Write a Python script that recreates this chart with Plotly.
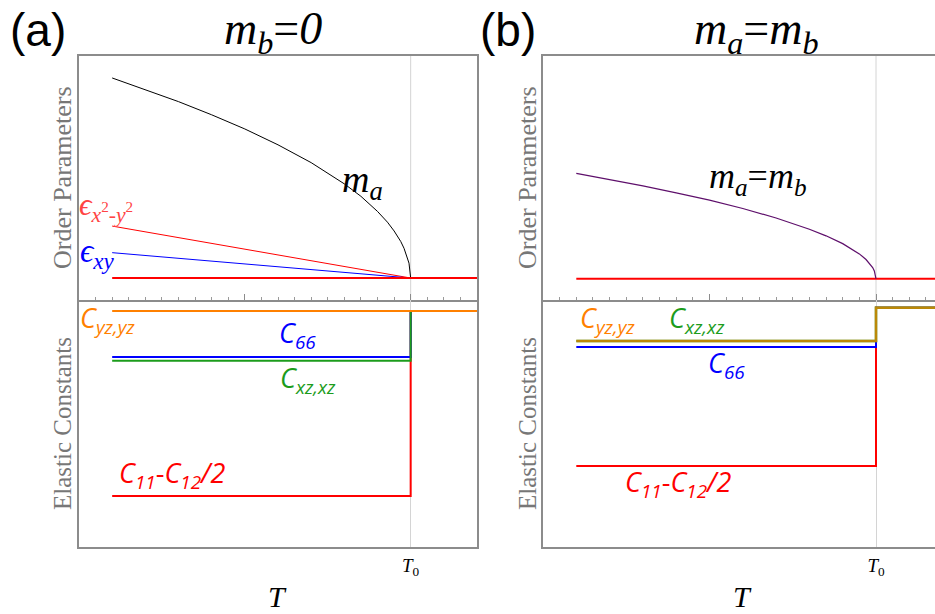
import plotly.graph_objects as go

W, H = 935, 614

# ---------------- data ----------------
T0 = 1.0
T_op = [0.1, 0.2, 0.3, 0.4, 0.5, 0.6, 0.7, 0.8, 0.85, 0.9, 0.93, 0.95, 0.97, 0.98, 0.99, 0.995, 1.0]
ma_a = [0.910, 0.863, 0.813, 0.759, 0.701, 0.636, 0.563, 0.476, 0.425, 0.363, 0.319, 0.283, 0.240, 0.212, 0.176, 0.151, 0.09]
mab_b = [0.519, 0.494, 0.468, 0.439, 0.409, 0.375, 0.336, 0.290, 0.263, 0.231, 0.207, 0.189, 0.166, 0.151, 0.133, 0.119, 0.087]

eps_T = [0.1, 1.0]
eps_x2y2 = [0.303, 0.09]
eps_xy = [0.194, 0.09]

base_T = [0.1, 1.2]
base_a = [0.09, 0.09]
base_b = [0.087, 0.087]

T_el = [0.1, 1.0, 1.0, 1.2]
cyz_a = [0.955, 0.955, 0.955, 0.955]
c66_a = [0.769, 0.769, 0.955, 0.955]
cxz_a = [0.754, 0.754, 0.955, 0.955]
c11_a = [0.206, 0.206, 0.955, 0.955]

cyz_b = [0.834, 0.834, 0.969, 0.969]
cxz_b = [0.834, 0.834, 0.969, 0.969]
c66_b = [0.810, 0.810, 0.969, 0.969]
c11_b = [0.328, 0.328, 0.969, 0.969]

# ---------------- styles ----------------
RED = "#ff0000"
BLUE = "#0000ff"
GREEN = "#1c9c1c"
ORANGE = "#ff8000"
PURPLE = "#5e0f6b"
FRAME = "#8c8c8c"
SERIF = "Liberation Serif"
SANS = "Open Sans"


def px(x):
    return x / W


def py(y):
    return 1 - y / H


fig = go.Figure()

xa = [px(79), px(477)]
xb = [px(543), 1.0]
y_top = [py(300), py(56)]
y_bot = [py(547), py(300)]


def line(x, y, color, width, xa_, ya_, opacity=1.0):
    fig.add_trace(go.Scatter(x=x, y=y, mode="lines", line=dict(color=color, width=width),
                             xaxis=xa_, yaxis=ya_, opacity=opacity, showlegend=False,
                             hoverinfo="skip"))


# panel (a) top
line(T_op, ma_a, "black", 1, "x", "y")
line(eps_T, eps_x2y2, RED, 1, "x", "y")
line(eps_T, eps_xy, BLUE, 1, "x", "y")
line(base_T, base_a, RED, 2, "x", "y")
# panel (a) bottom
line(T_el, c11_a, RED, 2, "x2", "y2")
line(T_el, c66_a, BLUE, 2, "x2", "y2")
line(T_el, cxz_a, GREEN, 2, "x2", "y2")
line(T_el, cyz_a, ORANGE, 2, "x2", "y2")
# panel (b) top
line(base_T, base_b, RED, 2, "x3", "y3")
line(T_op, mab_b, PURPLE, 1.2, "x3", "y3")
# panel (b) bottom
line(T_el, c11_b, RED, 2, "x4", "y4")
line(T_el, c66_b, BLUE, 2, "x4", "y4")
line(T_el, cxz_b, GREEN, 2.5, "x4", "y4")
line(T_el, cyz_b, ORANGE, 2.5, "x4", "y4", opacity=0.7)

rng_a = [0, 1.2]
rng_b = [0, (935 - 543) / 333]

top_x = dict(showline=True, linecolor=FRAME, linewidth=1.5, mirror=True, showgrid=False,
             zeroline=False, ticks="inside", tickcolor=FRAME, ticklen=6, tickwidth=1,
             tickmode="linear", tick0=0, dtick=0.5, showticklabels=False,
             minor=dict(ticks="inside", ticklen=3, tickcolor="#9a9a9a", tickwidth=1, dtick=0.05, tick0=0,
                        showgrid=False))
bot_x = dict(showline=True, linecolor=FRAME, linewidth=1.5, mirror=False, showgrid=True,
             gridcolor="#d4d4d4", gridwidth=1, zeroline=False, ticks="", tickmode="array",
             tickvals=[T0], ticktext=["<i>T</i><sub>0</sub>"],
             tickfont=dict(family=SERIF, size=19, color="black"))
y_common = dict(showline=True, linecolor=FRAME, linewidth=1.5, showgrid=False, zeroline=False,
                showticklabels=False, ticks="", range=[0, 1])

fig.update_layout(
    width=W, height=H, margin=dict(l=0, r=0, t=0, b=0),
    paper_bgcolor="white", plot_bgcolor="white",
    xaxis=dict(domain=xa, range=rng_a, anchor="y", **top_x),
    yaxis=dict(domain=y_top, anchor="x", mirror=True, **y_common),
    xaxis2=dict(domain=xa, range=rng_a, anchor="y2", **bot_x),
    yaxis2=dict(domain=y_bot, anchor="x2", mirror=True, **y_common),
    xaxis3=dict(domain=xb, range=rng_b, anchor="y3", **top_x),
    yaxis3=dict(domain=y_top, anchor="x3", mirror=False, **y_common),
    xaxis4=dict(domain=xb, range=rng_b, anchor="y4", **bot_x),
    yaxis4=dict(domain=y_bot, anchor="x4", mirror=False, **y_common),
)

for xr, yr in (("x", "y"), ("x3", "y3")):
    fig.add_shape(type="line", xref=xr, yref=yr + " domain", x0=T0, x1=T0, y0=0, y1=1,
                  line=dict(color="#d4d4d4", width=1), layer="below")


def ann(x, y, text, size, color="black", family=SERIF, angle=0):
    fig.add_annotation(x=px(x), y=py(y), xref="paper", yref="paper", text=text, showarrow=False,
                       font=dict(family=family, size=size, color=color), textangle=angle,
                       xanchor="center", yanchor="middle")


# panel labels and titles
ann(38, 30, "(a)", 46, family="Liberation Sans")
ann(508, 30, "(b)", 46, family="Liberation Sans")
ann(273, 32, "<i>m</i><sub><i>b</i></sub>=<i>0</i>", 46)
ann(756, 32, "<i>m</i><sub><i>a</i></sub>=<i>m</i><sub><i>b</i></sub>", 46)

# axis titles
for xc in (62, 527):
    ann(xc, 178, "Order Parameters", 26, color="#777777", angle=-90)
    ann(xc, 424, "Elastic Constants", 25, color="#777777", angle=-90)
ann(277, 596, "<i>T</i>", 30)
ann(742, 596, "<i>T</i>", 30)

# curve labels (a)
ann(362, 182, "<i>m</i><sub><i>a</i></sub>", 38)
ann(106, 207, "<i>ϵ</i><sub><i>x</i><sup>2</sup><i>-y</i><sup>2</sup></sub>", 31, color="#ff4444")
ann(97, 254, "<i>ϵ</i><sub><i>xy</i></sub>", 33, color=BLUE)
ann(107, 319, "<i>C</i><sub><i>yz,yz</i></sub>", 27, color=ORANGE, family=SANS)
ann(297, 334, "<i>C</i><sub><i>66</i></sub>", 27, color=BLUE, family=SANS)
ann(308, 379, "<i>C</i><sub><i>xz,xz</i></sub>", 27, color=GREEN, family=SANS)
ann(172, 474, "<i>C</i><sub><i>11</i></sub>-<i>C</i><sub><i>12</i></sub><i>/2</i>", 27, color=RED, family=SANS)

# curve labels (b)
ann(758, 178, "<i>m</i><sub><i>a</i></sub>=<i>m</i><sub><i>b</i></sub>", 36)
ann(607, 319, "<i>C</i><sub><i>yz,yz</i></sub>", 27, color=ORANGE, family=SANS)
ann(697, 319, "<i>C</i><sub><i>xz,xz</i></sub>", 27, color=GREEN, family=SANS)
ann(726, 364, "<i>C</i><sub><i>66</i></sub>", 27, color=BLUE, family=SANS)
ann(678, 483, "<i>C</i><sub><i>11</i></sub>-<i>C</i><sub><i>12</i></sub><i>/2</i>", 27, color=RED, family=SANS)

fig.write_html("out.html", config={"displayModeBar": False},
               post_script="document.body.style.margin='0';document.body.style.overflow='hidden';")
